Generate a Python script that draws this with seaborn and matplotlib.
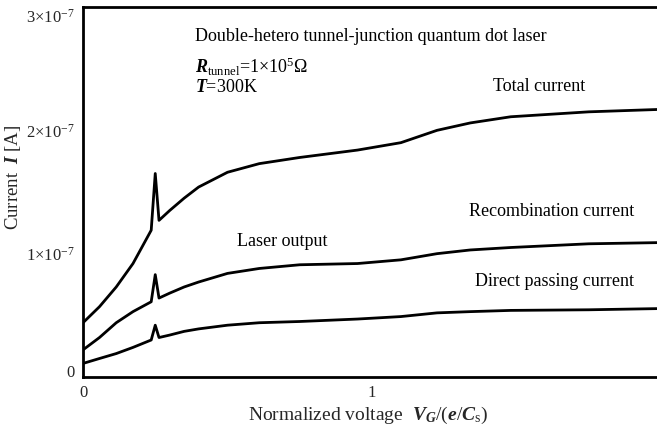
import matplotlib
matplotlib.use("Agg")
import matplotlib.pyplot as plt
import matplotlib.transforms as mtransforms
import seaborn as sns
import pandas as pd

# ---- data ----
voltage = [0, 0.057, 0.115, 0.173, 0.236, 0.250, 0.263, 0.30, 0.35, 0.40, 0.50,
           0.61, 0.75, 0.95, 1.10, 1.225, 1.34, 1.48, 1.75, 2.0]
total_current = [0.44, 0.57, 0.73, 0.92, 1.19, 1.65, 1.27, 1.35, 1.45, 1.54, 1.66,
                 1.73, 1.78, 1.84, 1.90, 2.00, 2.06, 2.11, 2.15, 2.17]
recomb_current = [0.22, 0.32, 0.44, 0.53, 0.61, 0.83, 0.64, 0.68, 0.73, 0.77, 0.84,
                  0.88, 0.91, 0.92, 0.95, 1.00, 1.03, 1.05, 1.08, 1.09]
direct_current = [0.11, 0.15, 0.19, 0.24, 0.30, 0.42, 0.32, 0.34, 0.37, 0.39, 0.42,
                  0.44, 0.45, 0.47, 0.49, 0.52, 0.53, 0.54, 0.545, 0.555]
scale = 1e-7
x_ticks = [0, 1]
x_tick_labels = ["0", "1"]
y_ticks = [0, 1e-7, 2e-7, 3e-7]
y_tick_labels = ["0", "1×10$^{\\mathregular{-7}}$", "2×10$^{\\mathregular{-7}}$",
                 "3×10$^{\\mathregular{-7}}$"]

sns.set_style("white")
plt.rcParams["font.family"] = ["Liberation Serif", "DejaVu Serif"]
plt.rcParams["mathtext.fontset"] = "custom"
plt.rcParams["mathtext.rm"] = "Liberation Serif"
plt.rcParams["mathtext.it"] = "Liberation Serif:italic"
plt.rcParams["mathtext.bf"] = "Liberation Serif:bold:italic"

df = pd.DataFrame({
    "V": voltage * 3,
    "I": [v * scale for v in total_current + recomb_current + direct_current],
    "series": ["Total"] * len(voltage) + ["Recomb"] * len(voltage) + ["Direct"] * len(voltage),
})

fig = plt.figure(figsize=(6.57, 4.30), dpi=100)
ax = fig.add_axes([83 / 657, 53 / 430, 578 / 657, 370 / 430])
sns.lineplot(data=df, x="V", y="I", units="series", estimator=None,
             color="black", linewidth=2.0, sort=False, ax=ax, legend=False)
for ln in ax.lines:
    ln.set_solid_joinstyle("round")
    ln.set_solid_capstyle("round")

ax.set_xlim(0, 2)
ax.set_ylim(0, 3e-7)
ax.set_xticks(x_ticks)
ax.set_xticklabels(x_tick_labels)
ax.set_yticks(y_ticks)
ax.set_yticklabels(y_tick_labels)
ax.tick_params(axis="x", length=0, pad=6, labelsize=12)
ax.tick_params(axis="y", length=2, width=1, direction="out", pad=4, labelsize=12)
for s in ["left", "bottom", "top"]:
    ax.spines[s].set_linewidth(2.0)
    ax.spines[s].set_color("black")
ax.spines["right"].set_visible(False)

# nudge the end labels of the y axis like in the reference
ylabels = ax.get_yticklabels()
ylabels[-1].set_transform(ylabels[-1].get_transform() +
                          mtransforms.ScaledTranslation(0, -9 / 100, fig.dpi_scale_trans))
ylabels[0].set_transform(ylabels[0].get_transform() +
                         mtransforms.ScaledTranslation(0, 6 / 100, fig.dpi_scale_trans))

ax.set_xlabel("Normalized voltage  $\\mathbf{V_G}$/($\\mathbf{e}$/$\\mathbf{C}_\\mathrm{s}$)",
              fontsize=14)
ax.xaxis.set_label_coords((368 - 83) / 578, (377 - 415) / 370)
ax.xaxis.label.set_va("center")
ax.set_ylabel("Current  $\\mathbf{I}$ [A]", fontsize=13.5)
ax.yaxis.set_label_coords((13 - 83) / 578, (377 - 177) / 370)
ax.yaxis.label.set_va("center")

kw = dict(transform=ax.transAxes, fontsize=13, color="black")
ax.text(0.194, 0.919, "Double-hetero tunnel-junction quantum dot laser", ha="left", va="center", **kw)
ax.text(0.194, 0.838, "$\\mathbf{R}_\\mathrm{tunnel}$=1×10$^{\\mathregular{5}}$Ω", ha="left", va="center", **kw)
ax.text(0.194, 0.783, "$\\mathbf{T}$=300K", ha="left", va="center", **kw)
ax.text(0.789, 0.784, "Total current", ha="center", va="center", **kw)
ax.text(0.810, 0.446, "Recombination current", ha="center", va="center", **kw)
ax.text(0.815, 0.257, "Direct passing current", ha="center", va="center", **kw)
ax.text(0.344, 0.365, "Laser output", ha="center", va="center", **kw)

fig.savefig("out.png", dpi=100)
